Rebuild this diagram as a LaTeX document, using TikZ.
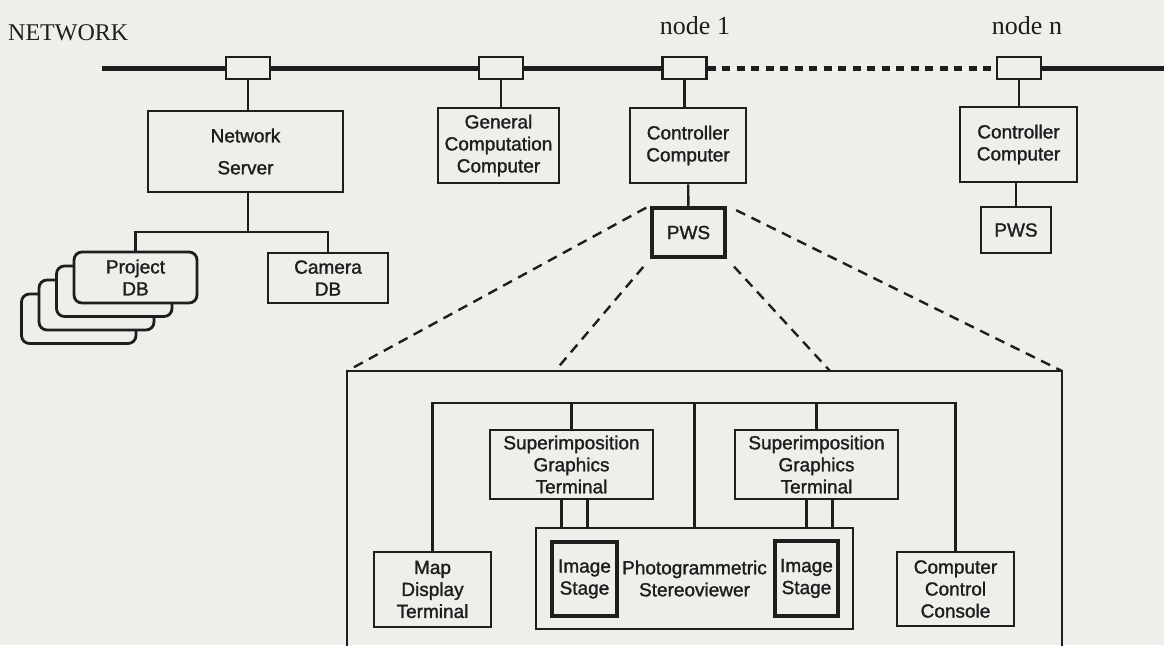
\documentclass[tikz,border=0pt]{standalone}
\usepackage{fontspec}
\setmainfont{Liberation Sans}[FakeBold=1.4]
\newfontfamily\serifface{Liberation Serif}
\usetikzlibrary{positioning}
\definecolor{paper}{RGB}{238,238,234}
\definecolor{ink}{RGB}{30,30,30}
\tikzset{
  box/.style={draw=ink, text=ink, line width=2.6pt, align=center, inner sep=0pt,
    font=\fontsize{19}{22}\selectfont},
  tap/.style={draw=ink, line width=2.2pt, minimum width=44pt, minimum height=22pt, inner sep=0pt},
  link/.style={draw=ink, line width=2.4pt},
  bus/.style={draw=ink, line width=5pt},
  fan/.style={draw=ink, line width=2.4pt, dash pattern=on 10pt off 7pt},
  caption/.style={text=ink, inner sep=0pt, font=\serifface\fontsize{24}{26}\selectfont},
}

\begin{document}
\begin{tikzpicture}[x=1pt,y=-1pt]
  \useasboundingbox (0,0) rectangle (1164,645);
  \fill[paper] (0,0) rectangle (1164,645);
  % network line with its taps
  \node[caption, anchor=west] (net) at (8,33) {NETWORK};
  \node[caption, font=\serifface\fontsize{26}{28}\selectfont] (lbl1) at (695,26) {node 1};
  \node[caption, font=\serifface\fontsize{26}{28}\selectfont] (lbln) at (1027,26) {node n};
  \foreach \n/\x in {tapA/248, tapB/501, tapC/684.5, tapD/1019}
    \node[tap] (\n) at (\x,68) {};
  \coordinate (busL) at (102,68);
  \coordinate (busR) at (1164,68);
  \draw[bus] (busL) -- (tapA) (tapA) -- (tapB) (tapB) -- (tapC) (tapD) -- (busR);
  \draw[bus, dash pattern=on 8pt off 6.5pt] (tapC) -- (tapD);

  % server side
  \node[box, minimum width=195pt, minimum height=81pt] (server) at (245.5,151.5) {Network\\[10pt]Server};
  \foreach \i in {3,2,1}
    \draw[link, line width=2.8pt, fill=paper, rounded corners=8pt]
      (74-17.5*\i, 252+14*\i) rectangle (190-18*\i, 303+13.5*\i);
  \node[box, line width=2.8pt, fill=paper, rounded corners=8pt, minimum width=123pt, minimum height=51pt]
    (projdb) at (135.5,277.5) {Project\\DB};
  \node[box, minimum width=120pt, minimum height=50pt] (camdb) at (328,278) {Camera\\DB};
  \draw[link] (tapA) -- (tapA |- server.north);
  \coordinate (fork) at (248,232);
  \draw[link] (fork |- server.south) -- (fork);
  \draw[link] (projdb.north) |- (fork) -| (camdb.north);

  % computers on the network
  \node[box, minimum width=121pt, minimum height=75pt] (gencomp) at (498.5,145.5) {General\\Computation\\Computer};
  \node[box, minimum width=116pt, minimum height=75pt] (ctrl1) at (688,145.5) {Controller\\Computer};
  \node[box, line width=4.5pt, minimum width=73pt, minimum height=49pt] (pws1) at (688.5,232.5) {PWS};
  \node[box, minimum width=117pt, minimum height=75pt] (ctrln) at (1018.5,144.5) {Controller\\Computer};
  \node[box, minimum width=70pt, minimum height=46pt] (pwsn) at (1016,230) {PWS};
  \draw[link] (tapB) -- (tapB |- gencomp.north);
  \draw[link] (tapC) -- (tapC |- ctrl1.north);
  \draw[link] (tapD) -- (tapD |- ctrln.north);
  \draw[link] (ctrl1) -- (pws1);
  \draw[link] (ctrln.south -| pwsn) -- (pwsn);

  % close-up of the PWS
  \coordinate (viewNW) at (347,371);
  \coordinate (viewNE) at (1062,371);
  \coordinate (viewL) at (555,371);
  \coordinate (viewR) at (830,371);
  \draw[link] (347,660) -- (viewNW) -- (viewNE) -- (1062,660);
  \draw[fan, shorten <=4pt] (pws1.north west) -- (viewNW);
  \draw[fan, shorten <=10pt] (pws1.south west) -- (viewL);
  \draw[fan, shorten <=10pt] (pws1.south east) -- (viewR);
  \draw[fan, shorten <=10pt] (pws1.north east) -- (viewNE);

  \node[box, minimum width=163pt, minimum height=69pt] (sgt1) at (571.5,464.5) {Superimposition\\Graphics\\Terminal};
  \node[box, minimum width=163pt, minimum height=69pt] (sgt2) at (816.5,464.5) {Superimposition\\Graphics\\Terminal};
  \node[box, minimum width=317pt, minimum height=101pt] (stereo) at (694.5,578.5) {Photogrammetric\\Stereoviewer};
  \node[box, line width=4pt, minimum width=65pt, minimum height=74pt] (stage1) at (584.5,579) {Image\\Stage};
  \node[box, line width=4pt, minimum width=63pt, minimum height=75pt] (stage2) at (806.5,578.5) {Image\\Stage};
  \node[box, minimum width=117pt, minimum height=75pt] (mapdisp) at (432.5,589.5) {Map\\Display\\Terminal};
  \node[box, minimum width=117pt, minimum height=74pt] (console) at (955.5,589) {Computer\\Control\\Console};
  \coordinate (rail) at (0,403);
  \draw[link] (mapdisp.north) -- (mapdisp.north |- rail) -- (console.north |- rail) -- (console.north);
  \draw[link] (sgt1.north |- rail) -- (sgt1.north);
  \draw[link] (sgt2.north |- rail) -- (sgt2.north);
  \draw[link] (stereo.north |- rail) -- (stereo.north);
  \foreach \s in {-10,16} {
    \draw[link] ([xshift=\s pt]sgt1.south) -- ([xshift=\s pt]sgt1.south |- stereo.north);
    \draw[link] ([xshift=\s pt]sgt2.south) -- ([xshift=\s pt]sgt2.south |- stereo.north);
  }
\end{tikzpicture}
\end{document}
